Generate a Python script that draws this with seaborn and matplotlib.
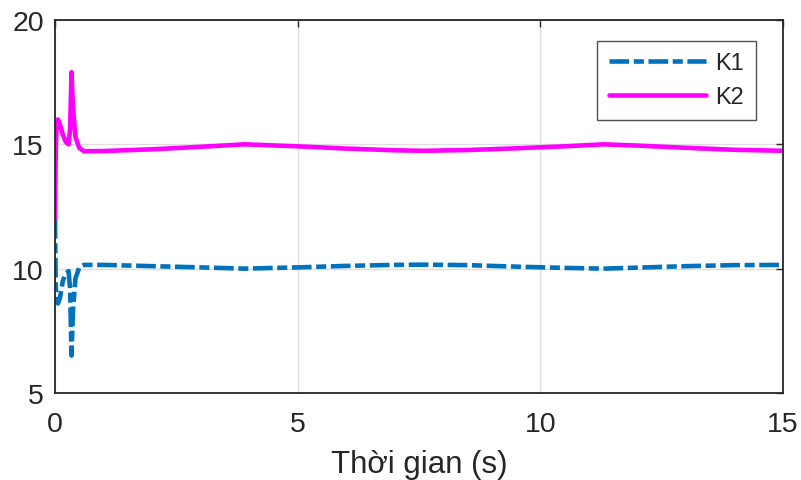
import matplotlib
matplotlib.use("Agg")
import matplotlib.pyplot as plt
import seaborn as sns
import pandas as pd

# time (s)
t = [0, 0.015, 0.03, 0.06, 0.10, 0.16, 0.22, 0.28, 0.31, 0.34, 0.37, 0.42, 0.50, 0.60,
     1.0, 2.0, 3.0, 3.9, 5.0, 6.0, 7.0, 7.6, 8.5, 9.5, 10.5, 11.3, 12.0, 13.0, 14.0, 15.0]
k1 = [12.0, 9.3, 8.8, 8.6, 8.8, 9.5, 9.8, 9.9, 9.2, 6.5, 8.3, 9.6, 10.05, 10.15,
      10.15, 10.1, 10.05, 10.0, 10.05, 10.11, 10.15, 10.16, 10.14, 10.08, 10.03, 10.0, 10.04, 10.1, 10.14, 10.15]
k2 = [12.0, 14.8, 15.6, 16.0, 15.8, 15.4, 15.1, 15.0, 15.6, 17.9, 16.5, 15.3, 14.85, 14.72,
      14.73, 14.8, 14.9, 15.0, 14.92, 14.83, 14.76, 14.74, 14.77, 14.84, 14.92, 15.0, 14.95, 14.86, 14.78, 14.74]

xticks = [0, 5, 10, 15]
yticks = [5, 10, 15, 20]
xlabel = "Thời gian (s)"

sns.set_style("white")
plt.rcParams["font.family"] = ["Liberation Sans", "DejaVu Sans"]

fig = plt.figure(figsize=(8.01, 4.81), dpi=100)
ax = fig.add_axes([0.0687, 0.181, 0.9088, 0.7753])

df = pd.DataFrame({"t": t, "K1": k1, "K2": k2})
dash = (4.3, 1.0, 2.2, 1.0)
sns.lineplot(data=df, x="t", y="K1", ax=ax, color="#0072BD", linewidth=3.3,
             label="K1", estimator=None, sort=False)
ax.lines[-1].set_dashes(dash)
ax.lines[-1].set_dash_capstyle("butt")
sns.lineplot(data=df, x="t", y="K2", ax=ax, color="#FF00FF", linewidth=3.3,
             label="K2", estimator=None, sort=False)

ax.set_xlim(0, 15)
ax.set_ylim(5, 20)
ax.set_xticks(xticks)
ax.set_yticks(yticks)
ax.grid(True, color="#dedede", linewidth=1.0)
ax.set_axisbelow(True)
for s in ax.spines.values():
    s.set_visible(True)
    s.set_color("#262626")
    s.set_linewidth(1.3)
ax.tick_params(axis="both", direction="in", length=5, width=1.0, color="#262626",
               labelsize=20.5, labelcolor="#262626", top=True, right=True)
ax.tick_params(axis="x", pad=13)
ax.tick_params(axis="y", pad=8)
ax.set_xlabel(xlabel, fontsize=22.5, color="#262626", labelpad=9)
ax.set_ylabel("")

leg = ax.legend(loc="upper right", bbox_to_anchor=(0.963, 0.945), fontsize=17,
                frameon=True, fancybox=False, handlelength=4.1, handletextpad=0.4,
                borderpad=0.5, labelspacing=0.5, borderaxespad=0)
leg.get_frame().set_edgecolor("#262626")
leg.get_frame().set_linewidth(1.0)
leg.get_lines()[0].set_dashes(dash)

fig.savefig("out.png", dpi=100)
